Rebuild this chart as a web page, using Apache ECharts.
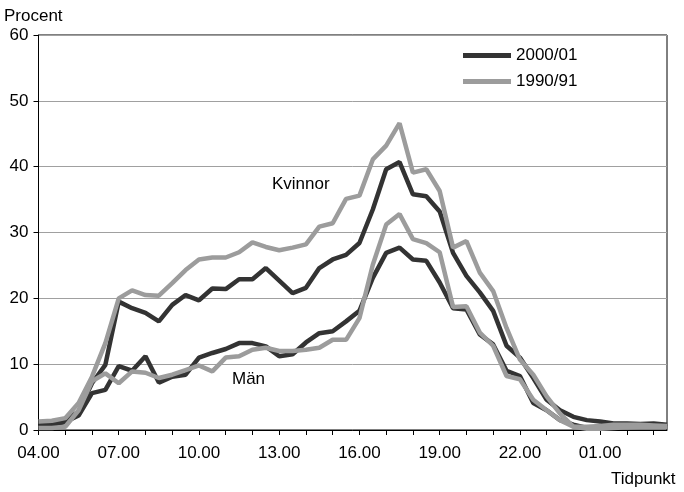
<!DOCTYPE html>
<html>
<head>
<meta charset="utf-8">
<title>Procent per tidpunkt</title>
<script src="https://cdn.jsdelivr.net/npm/echarts@6/dist/echarts.min.js"></script>
<style>
  html, body { margin: 0; padding: 0; background: #fff; }
  #chart { width: 684px; height: 492px; }
</style>
</head>
<body>
<div id="chart"></div>
<script>
// tidpunkter, varje halvtimme från 04.00 till 03.30
var hours = ['04', '05', '06', '07', '08', '09', '10', '11', '12', '13', '14', '15',
  '16', '17', '18', '19', '20', '21', '22', '23', '00', '01', '02', '03']
var times = []
for (var h = 0; h < hours.length; h++) {
  times.push(hours[h] + '.00')
  times.push(hours[h] + '.30')
}

var yTicks = [0, 10, 20, 30, 40, 50, 60]

// Kvinnor
var kvinnor2000 = [0.8, 1.0, 1.5, 2.8, 7.1, 9.9, 19.5, 18.5, 17.8, 16.5, 19.0, 20.5,
  19.7, 21.5, 21.4, 22.9, 22.9, 24.6, 22.7, 20.8, 21.6, 24.6, 25.9, 26.6,
  28.4, 33.5, 39.6, 40.7, 35.8, 35.5, 33.2, 26.9, 23.4, 20.9, 18.1, 12.8,
  11.0, 7.9, 4.6, 3.0, 2.0, 1.5, 1.3, 1.0, 1.0, 0.9, 1.0, 0.8]
var kvinnor1990 = [1.3, 1.4, 1.8, 4.1, 8.1, 13.2, 20.0, 21.2, 20.5, 20.4, 22.3, 24.3,
  25.9, 26.2, 26.2, 27.0, 28.5, 27.8, 27.3, 27.7, 28.2, 30.9, 31.4, 35.1,
  35.6, 41.1, 43.2, 46.6, 39.1, 39.6, 36.3, 27.7, 28.7, 23.9, 21.1, 15.5,
  10.7, 8.4, 5.1, 2.5, 0.5, 0.5, 0.6, 0.8, 0.8, 0.8, 0.7, 0.6]

// Män
var man2000 = [0.5, 0.8, 1.2, 2.2, 5.6, 6.1, 9.7, 9.0, 11.2, 7.2, 8.1, 8.4,
  11.0, 11.7, 12.3, 13.2, 13.2, 12.7, 11.2, 11.5, 13.3, 14.7, 15.0, 16.5,
  18.1, 23.1, 26.9, 27.7, 25.9, 25.7, 22.4, 18.5, 18.3, 14.5, 13.0, 9.0,
  8.2, 4.1, 3.0, 1.5, 0.8, 0.3, 0.3, 0.4, 0.5, 0.5, 0.8, 0.5]
var man1990 = [0.3, 0.3, 0.5, 3.0, 7.4, 8.6, 7.1, 8.9, 8.7, 7.9, 8.4, 9.1,
  9.8, 8.9, 11.0, 11.2, 12.2, 12.5, 12.0, 12.0, 12.2, 12.5, 13.7, 13.7,
  17.0, 25.1, 31.2, 32.8, 29.0, 28.4, 27.0, 18.7, 18.8, 14.8, 12.8, 8.2,
  7.7, 4.6, 3.0, 1.5, 0.5, 0.2, 0.2, 0.3, 0.4, 0.5, 0.5, 0.5]

var darkColor = '#333333'
var greyColor = '#9c9c9c'
var font = 'Liberation Sans, Arial, sans-serif'

function lineSeries(name, data, color) {
  return {
    name: name,
    type: 'line',
    data: data,
    symbol: 'none',
    smooth: false,
    silent: true,
    color: color,
    lineStyle: { color: color, width: 4.5 }
  }
}

var chart = echarts.init(document.getElementById('chart'), null, { renderer: 'canvas' })

var option = {
  backgroundColor: '#fff',
  animation: false,
  textStyle: { fontFamily: font },
  grid: {
    left: 38.5,
    right: 17,
    top: 35,
    bottom: 62,
    show: true,
    borderColor: '#000',
    borderWidth: 1,
    containLabel: false,
    outerBoundsMode: 'none'
  },
  legend: {
    data: ['2000/01', '1990/91'],
    orient: 'vertical',
    left: 458,
    top: 42,
    icon: 'rect',
    itemWidth: 48,
    itemHeight: 5,
    itemGap: 9,
    textStyle: { color: '#000', fontSize: 17, fontFamily: font, padding: [0, 0, 0, 0] }
  },
  xAxis: {
    type: 'category',
    data: times,
    boundaryGap: false,
    axisLine: { show: true, lineStyle: { color: '#000', width: 1 } },
    axisTick: { show: true, interval: 1, length: 5, lineStyle: { color: '#000' } },
    axisLabel: { interval: 5, color: '#000', fontSize: 17, fontFamily: font, margin: 15 },
    splitLine: { show: false }
  },
  yAxis: {
    type: 'value',
    min: yTicks[0],
    max: yTicks[yTicks.length - 1],
    interval: 10,
    axisLine: { show: true, lineStyle: { color: '#000', width: 1 } },
    axisTick: { show: true, length: 5, lineStyle: { color: '#000' } },
    axisLabel: { color: '#000', fontSize: 17, fontFamily: font, margin: 10 },
    splitLine: { show: true, lineStyle: { color: '#a0a0a0', width: 1 } }
  },
  graphic: [
    { type: 'text', left: 4, top: 8, style: { text: 'Procent', fill: '#000', font: '17px ' + font } },
    { type: 'text', left: 611, top: 471, style: { text: 'Tidpunkt', fill: '#000', font: '17px ' + font } },
    { type: 'text', left: 272, top: 176, style: { text: 'Kvinnor', fill: '#000', font: '17px ' + font } },
    { type: 'text', left: 232, top: 371, style: { text: 'Män', fill: '#000', font: '17px ' + font } }
  ],
  series: [
    lineSeries('2000/01', kvinnor2000, darkColor),
    lineSeries('2000/01', man2000, darkColor),
    lineSeries('1990/91', kvinnor1990, greyColor),
    lineSeries('1990/91', man1990, greyColor)
  ]
}

chart.setOption(option)
</script>
</body>
</html>
